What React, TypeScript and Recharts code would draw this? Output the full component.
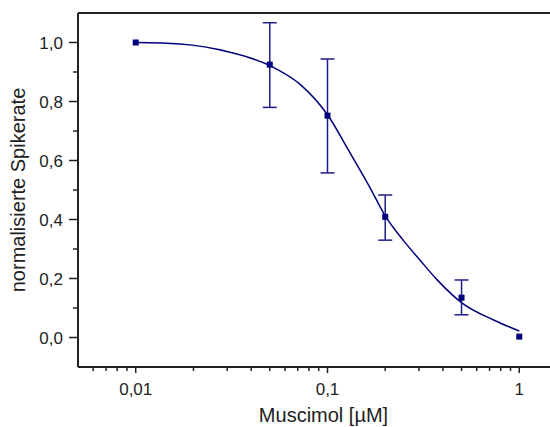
import { ComposedChart, XAxis, YAxis, Scatter, Line, ErrorBar, ReferenceLine, Label } from "recharts";

// measured points (Muscimol concentration in µM -> normalised spike rate)
const concentrations = [0.01, 0.05, 0.1, 0.2, 0.5, 1];
const spikeRates = [1.0, 0.925, 0.752, 0.409, 0.135, 0.003];
const errUpper = [null, 1.067, 0.944, 0.483, 0.195, null];
const errLower = [null, 0.78, 0.558, 0.33, 0.077, null];

// fitted curve
const fitX = [0.01, 0.017, 0.031, 0.05, 0.072, 0.1, 0.13, 0.166, 0.2, 0.248, 0.303, 0.371, 0.452, 0.5, 0.73, 1];
const fitY = [1.0, 0.995, 0.967, 0.922, 0.858, 0.755, 0.63, 0.51, 0.412, 0.33, 0.263, 0.197, 0.142, 0.118, 0.06, 0.022];

const xMajorTicks = [0.01, 0.1, 1];
const xMinorTicks = [0.006, 0.007, 0.008, 0.009, 0.02, 0.03, 0.04, 0.05, 0.06, 0.07, 0.08, 0.09, 0.2, 0.3, 0.4, 0.5, 0.6, 0.7, 0.8, 0.9];
const yMajorTicks = [0, 0.2, 0.4, 0.6, 0.8, 1.0];
const yMinorTicks = [0.1, 0.3, 0.5, 0.7, 0.9];

const xTicks = [...xMinorTicks, ...xMajorTicks].sort((a, b) => a - b);
const yTicks = [...yMinorTicks, ...yMajorTicks].sort((a, b) => a - b);

const NAVY = "#00007a";
const AXIS = "#222";
const FONT = "'Liberation Sans', Arial, sans-serif";

const points = concentrations.map((x, i) => ({
  x,
  y: spikeRates[i],
  err: errUpper[i] == null ? null : [spikeRates[i] - (errLower[i] as number), (errUpper[i] as number) - spikeRates[i]],
}));

const curve = fitX.map((x, i) => ({ x, y: fitY[i] }));

const comma = (v: number, digits?: number) =>
  (digits != null ? v.toFixed(digits) : String(v)).replace(".", ",");

const Square = (props: any) => {
  const { cx, cy } = props;
  return <rect x={cx - 3} y={cy - 3} width={6} height={6} fill={NAVY} />;
};

const XTick = (props: any) => {
  const { x, y, payload } = props;
  const major = xMajorTicks.includes(payload.value);
  return (
    <g>
      <line x1={x} x2={x} y1={y} y2={y + (major ? 6 : 4)} stroke={AXIS} strokeWidth={1.5} />
      {major && (
        <text x={x} y={y + 28} textAnchor="middle" fontSize={17} fill="#222" fontFamily={FONT}>
          {comma(payload.value)}
        </text>
      )}
    </g>
  );
};

const YTick = (props: any) => {
  const { x, y, payload } = props;
  const major = yMajorTicks.some((t) => Math.abs(t - payload.value) < 1e-9);
  return (
    <g>
      <line x1={x - (major ? 9 : 5)} x2={x} y1={y} y2={y} stroke={AXIS} strokeWidth={1.5} />
      {major && (
        <text x={x - 15} y={y + 6} textAnchor="end" fontSize={17} fill="#222" fontFamily={FONT}>
          {comma(payload.value, 1)}
        </text>
      )}
    </g>
  );
};

export default function App() {
  return (
    <div style={{ position: "absolute", left: 0, top: 0, width: 550, height: 427, overflow: "hidden", background: "#fff" }}>
      <ComposedChart
        width={590}
        height={427}
        margin={{ top: 13, right: 13, bottom: 0, left: 0 }}
        style={{ fontFamily: FONT }}
      >
        <XAxis
          type="number"
          dataKey="x"
          scale="log"
          domain={[0.005, 2]}
          allowDataOverflow
          ticks={xTicks}
          interval={0}
          tick={XTick}
          tickLine={false}
          tickSize={0}
          tickMargin={0}
          axisLine={{ stroke: AXIS, strokeWidth: 2 }}
          height={60}
        >
          <Label value="Muscimol [µM]" position="insideBottom" offset={5} dx={-4} fontSize={20} fill="#222" />
        </XAxis>
        <YAxis
          type="number"
          domain={[-0.1, 1.1]}
          allowDataOverflow
          ticks={yTicks}
          interval={0}
          tick={YTick}
          tickLine={false}
          tickSize={0}
          tickMargin={0}
          axisLine={{ stroke: AXIS, strokeWidth: 2 }}
          width={78}
        >
          <Label value="normalisierte Spikerate" angle={-90} position="center" dx={-21} fontSize={20} fill="#222" />
        </YAxis>
        <ReferenceLine y={1.1} stroke={AXIS} strokeWidth={2} ifOverflow="visible" />
        <ReferenceLine x={2} stroke={AXIS} strokeWidth={2} ifOverflow="visible" />
        <Line
          data={curve}
          dataKey="y"
          type="monotone"
          stroke={NAVY}
          strokeWidth={1.5}
          dot={false}
          isAnimationActive={false}
        />
        <Scatter data={points} dataKey="y" shape={Square} isAnimationActive={false}>
          <ErrorBar dataKey="err" direction="y" width={7} stroke="#1c1c8c" strokeWidth={1.5} />
        </Scatter>
      </ComposedChart>
    </div>
  );
}
